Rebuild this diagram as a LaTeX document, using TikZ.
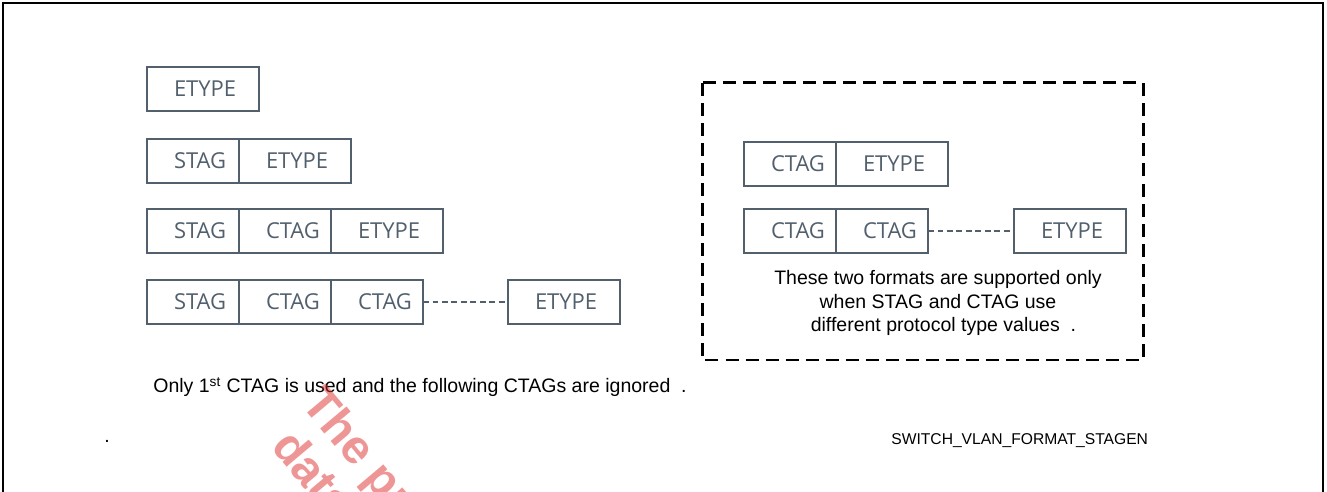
\documentclass[tikz,border=0pt]{standalone}
\usepackage{xcolor,tikz,fontspec}
\usetikzlibrary{positioning}
\setmainfont{Liberation Sans}
\newfontfamily\fieldfont{Open Sans}
\definecolor{slate}{RGB}{82,96,110}
\definecolor{stamp}{RGB}{222,45,45}
\tikzset{
  fld/.style={draw=slate,line width=0.85pt,text=slate,font=\fieldfont\fontsize{12.5}{14}\selectfont,
    minimum height=8.8mm,text width=18.4mm,align=left,inner sep=0pt,outer sep=0pt,
    execute at begin node={\hspace*{5.4mm}}},
  wide/.style={fld,text width=22.4mm},
  link/.style={draw=slate,line width=1.1pt,dash pattern=on 3.4pt off 2pt},
  fence/.style={draw=black,line width=1.7pt,dash pattern=on 7.4pt off 4pt},
  txt/.style={font=\fontsize{11.1}{13.6}\selectfont,inner sep=0pt},
  wmark/.style={font=\bfseries\fontsize{27}{30}\selectfont,text=stamp,text opacity=0.5,inner sep=0pt}
}
\begin{document}
\begin{tikzpicture}[x=0.2mm,y=-0.2mm]
  \useasboundingbox (0,0) rectangle (1327,492);
  \begin{scope}
    \clip (0,0) rectangle (1327,492);
    \draw[line width=1.1pt] (3,500) -- (3,3) -- (1323,3) -- (1323,500);
  \end{scope}
  % left column
  \node[wide,anchor=north west] (e1) at (147,67) {ETYPE};
  \node[fld,anchor=north west] (s2) at (147,139) {STAG};
  \node[wide,right=0pt of s2] (e2) {ETYPE};
  \node[fld,anchor=north west] (s3) at (147,209) {STAG};
  \node[fld,right=0pt of s3] (c3) {CTAG};
  \node[wide,right=0pt of c3] (e3) {ETYPE};
  \node[fld,anchor=north west] (s4) at (147,280) {STAG};
  \node[fld,right=0pt of s4] (c4) {CTAG};
  \node[fld,right=0pt of c4] (c4b) {CTAG};
  \node[wide,right=17mm of c4b] (e4) {ETYPE};
  \draw[link] (c4b) -- (e4);
  \node[txt,anchor=base west] (only) at (153,393)
    {Only 1\textsuperscript{st} CTAG is used and the following CTAGs are ignored\ \ .};
  \node[txt,anchor=base west] (dot) at (104,443) {.};
  % right column
  \draw[fence] (702,83) rectangle (1143,360);
  \node[fld,anchor=north west] (c5) at (744,142) {CTAG};
  \node[wide,right=0pt of c5] (e5) {ETYPE};
  \node[fld,anchor=north west] (c6) at (744,209) {CTAG};
  \node[fld,right=0pt of c6] (c6b) {CTAG};
  \node[wide,right=17.2mm of c6b] (e6) {ETYPE};
  \draw[link] (c6b) -- (e6);
  \node[txt,align=center] (note) at (938,303)
    {These two formats are supported only\\when STAG and CTAG use\\\ \ different protocol type values\ \ .};
  \node[txt,anchor=base west,font=\fontsize{8.9}{10}\selectfont] (tag) at (891,445) {SWITCH\_VLAN\_FORMAT\_STAGEN};
  % watermark
  \begin{scope}
    \clip (0,0) rectangle (1327,492);
    \node[wmark,rotate=-50,anchor=base west] (wm1) at (300,404) {The pr};
    \node[wmark,rotate=-50,anchor=base west] (wm2) at (270,447) {data};
  \end{scope}
\end{tikzpicture}
\end{document}
